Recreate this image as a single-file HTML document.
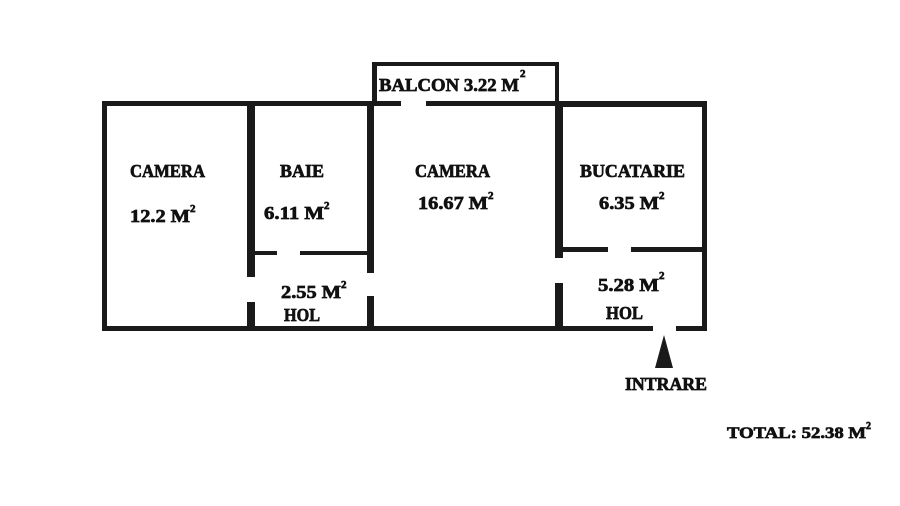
<!DOCTYPE html>
<html><head><meta charset="utf-8"><style>
html,body{margin:0;padding:0;background:#fff;width:900px;height:506px;overflow:hidden}
text{font-family:"Liberation Serif",serif;font-weight:bold;fill:#111;stroke:#111;stroke-width:0.7}
</style></head><body>
<svg width="900" height="506" viewBox="0 0 900 506" xmlns="http://www.w3.org/2000/svg">
<g fill="#1a1a1a">
<rect x="372" y="62" width="5" height="44"/>
<rect x="372" y="62" width="187" height="4"/>
<rect x="555" y="62" width="4" height="44"/>
<rect x="102" y="101" width="299" height="5"/>
<rect x="426" y="101" width="281" height="5"/>
<rect x="555" y="101" width="152" height="6"/>
<rect x="102" y="326" width="551" height="5"/>
<rect x="676" y="326" width="31" height="5"/>
<rect x="102" y="101" width="5" height="230"/>
<rect x="702" y="101" width="5" height="230"/>
<rect x="247" y="101" width="8" height="176"/>
<rect x="247" y="302" width="8" height="29"/>
<rect x="367" y="101" width="7" height="172"/>
<rect x="367" y="296" width="7" height="35"/>
<rect x="255" y="251" width="22" height="4"/>
<rect x="300" y="251" width="67" height="4"/>
<rect x="555" y="101" width="8" height="157"/>
<rect x="555" y="283" width="8" height="48"/>
<rect x="563" y="247" width="45" height="5"/>
<rect x="631" y="247" width="73" height="5"/>
<polygon points="664,335 655,368 673,368"/>
</g>
<g font-size="18">
<text x="130" y="177" textLength="75" lengthAdjust="spacingAndGlyphs">CAMERA</text>
<text x="130" y="222" textLength="60" lengthAdjust="spacingAndGlyphs">12.2 M</text>
<text x="190" y="212" font-size="11">2</text>
<text x="280" y="177" textLength="44" lengthAdjust="spacingAndGlyphs">BAIE</text>
<text x="264" y="219" textLength="60" lengthAdjust="spacingAndGlyphs">6.11 M</text>
<text x="324" y="209" font-size="11">2</text>
<text x="281" y="298" textLength="60" lengthAdjust="spacingAndGlyphs">2.55 M</text>
<text x="341" y="288" font-size="11">2</text>
<text x="284" y="321" textLength="36" lengthAdjust="spacingAndGlyphs">HOL</text>
<text x="379" y="91" textLength="140" lengthAdjust="spacingAndGlyphs">BALCON  3.22 M</text>
<text x="520" y="77" font-size="11">2</text>
<text x="415" y="177" textLength="75" lengthAdjust="spacingAndGlyphs">CAMERA</text>
<text x="418" y="209" textLength="70" lengthAdjust="spacingAndGlyphs">16.67 M</text>
<text x="488" y="199" font-size="11">2</text>
<text x="580" y="177" textLength="105" lengthAdjust="spacingAndGlyphs">BUCATARIE</text>
<text x="599" y="209" textLength="60" lengthAdjust="spacingAndGlyphs">6.35 M</text>
<text x="659" y="199" font-size="11">2</text>
<text x="598" y="291" textLength="61" lengthAdjust="spacingAndGlyphs">5.28 M</text>
<text x="659" y="279" font-size="11">2</text>
<text x="606" y="319" textLength="37" lengthAdjust="spacingAndGlyphs">HOL</text>
<text x="625" y="390" textLength="82" lengthAdjust="spacingAndGlyphs">INTRARE</text>
</g>
<text x="727" y="438" font-size="16" textLength="139" lengthAdjust="spacingAndGlyphs">TOTAL: 52.38 M</text>
<text x="866" y="429" font-size="10">2</text>
</svg>
</body></html>
